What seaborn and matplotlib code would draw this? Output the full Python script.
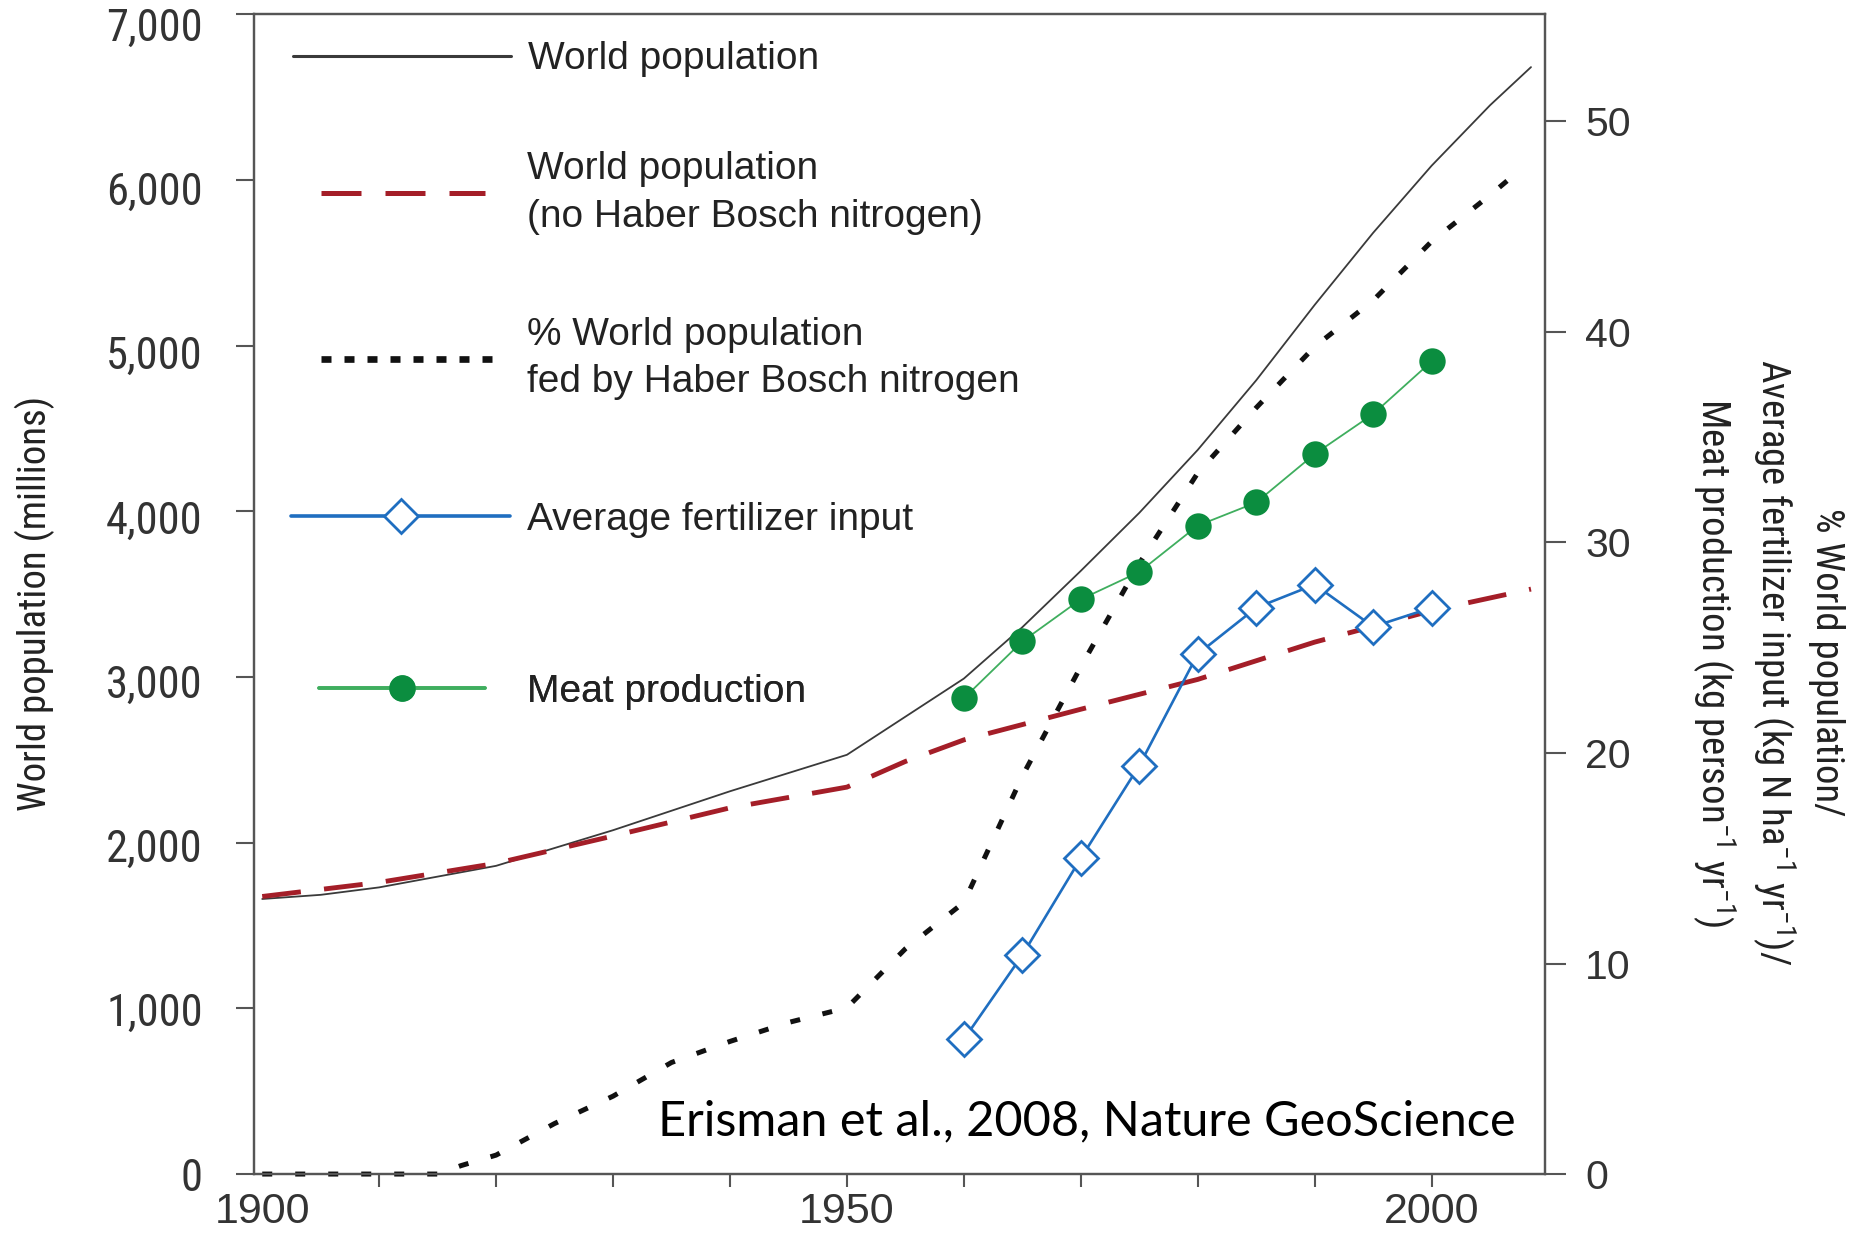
import matplotlib
matplotlib.use("Agg")
import matplotlib.pyplot as plt
import seaborn as sns
from matplotlib import font_manager
from matplotlib.lines import Line2D
from matplotlib.ticker import FixedFormatter, FixedLocator
from matplotlib.transforms import ScaledTranslation

# values
years_pop = [1900, 1905, 1910, 1920, 1930, 1940, 1950, 1955, 1960, 1965, 1970,
             1975, 1980, 1985, 1990, 1995, 2000, 2005, 2008.5]
world_pop = [1660, 1685, 1730, 1860, 2075, 2310, 2530, 2760, 2990, 3300, 3640,
             3990, 4370, 4790, 5245, 5680, 6085, 6450, 6680]

years_no_hb = [1900, 1910, 1920, 1930, 1940, 1950, 1955, 1960, 1970, 1980, 1990,
               2000, 2008.5]
world_pop_no_hb = [1675, 1760, 1875, 2040, 2210, 2335, 2490, 2620, 2805, 2985, 3210,
                   3400, 3530]

years_hb = [1900, 1915, 1917, 1920, 1925, 1930, 1935, 1940, 1945, 1950, 1955, 1960,
            1965, 1970, 1975, 1980, 1985, 1990, 1995, 2000, 2005, 2006.5]
pct_fed_hb = [0, 0, 0.4, 0.9, 2.4, 3.7, 5.3, 6.3, 7.2, 7.9, 10.7, 12.9,
              18.9, 24.1, 29.0, 33.3, 36.4, 39.3, 41.5, 44.3, 46.5, 47.2]

years_agri = [1960, 1965, 1970, 1975, 1980, 1985, 1990, 1995, 2000]
fertilizer = [6.4, 10.4, 15.0, 19.4, 24.7, 26.9, 28.0, 26.0, 26.9]
meat = [22.6, 25.3, 27.3, 28.6, 30.8, 31.9, 34.2, 36.1, 38.6]

x_major = [1900, 1950, 2000]
x_minor = list(range(1910, 2001, 10))
left_ticks = [0, 1000, 2000, 3000, 4000, 5000, 6000, 7000]
left_labels = ["0", "1,000", "2,000", "3,000", "4,000", "5,000", "6,000", "7,000"]
right_ticks = [0, 10, 20, 30, 40, 50]


def pick_font(names):
    have = {f.name for f in font_manager.fontManager.ttflist}
    for n in names:
        if n in have:
            return n
    return "DejaVu Sans"


sns.set_style("ticks")
narrow = pick_font(["Liberation Sans Narrow", "Roboto Condensed", "Liberation Sans"])
plain = pick_font(["Liberation Sans", "Arimo", "DejaVu Sans"])
cite_font = pick_font(["Lato", "Open Sans"])
plt.rcParams["font.family"] = [plain, "DejaVu Sans"]
plt.rcParams["mathtext.fontset"] = "custom"
plt.rcParams["mathtext.rm"] = narrow
plt.rcParams["mathtext.it"] = narrow

RED = "#a41e28"
BLUE = "#1f6ec0"
GREEN = "#0b8d3f"
GREEN_LINE = "#3fae5e"
GREY = "#3a3a3a"
AXIS = "#555555"
TEXT = "#222222"

fig = plt.figure(figsize=(18.53, 12.47), dpi=100)
ax = fig.add_axes([0.1371, 0.0585, 0.6967, 0.9302])
ax2 = ax.twinx()

red_dash = (0, (8.0, 4.8))
dots = (0, (2.0, 4.6))

sns.lineplot(x=years_pop, y=world_pop, ax=ax, color=GREY, linewidth=1.3)
sns.lineplot(x=years_no_hb, y=world_pop_no_hb, ax=ax, color=RED, linewidth=3.5,
             linestyle=red_dash)
sns.lineplot(x=years_hb, y=pct_fed_hb, ax=ax2, color="#111111", linewidth=3.6,
             linestyle=dots, clip_on=False)
sns.lineplot(x=years_agri, y=fertilizer, ax=ax2, color=BLUE, linewidth=1.9,
             marker="D", markersize=17, markerfacecolor="white",
             markeredgecolor=BLUE, markeredgewidth=2.0)
sns.lineplot(x=years_agri, y=meat, ax=ax2, color=GREEN_LINE, linewidth=1.3,
             marker="o", markersize=19, markerfacecolor=GREEN,
             markeredgecolor=GREEN, markeredgewidth=0)

ax.set_xlim(1899.3, 2009.7)
ax.set_ylim(0, 7000)
ax2.set_ylim(0, 55.1)

# x axis: ticks every decade, labels every 50 years
ax.xaxis.remove_overlapping_locs = False
ax.xaxis.set_major_locator(FixedLocator(x_major))
ax.xaxis.set_major_formatter(FixedFormatter([str(y) for y in x_major]))
ax.xaxis.set_minor_locator(FixedLocator(x_minor))
ax.tick_params(axis="x", which="major", length=0, pad=13, labelsize=31,
               labelcolor="#333333")
ax.tick_params(axis="x", which="minor", length=9, width=1.5, color=AXIS,
               direction="out")

ax.set_yticks(left_ticks, left_labels)
ax.tick_params(axis="y", length=13, width=1.5, color=AXIS, direction="out", pad=24,
               labelsize=32, labelcolor="#333333", labelfontfamily=narrow)
ax2.set_yticks(right_ticks, [str(t) for t in right_ticks])
ax2.tick_params(axis="y", length=15, width=1.5, color=AXIS, direction="out", pad=14,
                labelsize=29.5, labelcolor="#333333")

for a in (ax, ax2):
    for s in a.spines.values():
        s.set_visible(True)
        s.set_color(AXIS)
        s.set_linewidth(1.6)

ax.set_ylabel("World population (millions)", fontsize=28, fontfamily=narrow,
              color=TEXT)
ax.yaxis.set_label_coords(-0.1545, 0.492)

right_label = ("% World population/\n"
               "Average fertilizer input (kg N ha$^{-1}$ yr$^{-1}$)/\n"
               "Meat production (kg person$^{-1}$ yr$^{-1}$)")
ax2.set_ylabel(right_label, fontsize=28, fontfamily=narrow, color=TEXT,
               rotation=270, linespacing=1.32)
ax2.yaxis.label.set(ha="center", va="center", rotation_mode="default",
                    multialignment="center")
ax2.yaxis.set_label_coords(1.172, 0.441)

# legend: one key per entry so each sits where the reference puts it
keys = [
    (Line2D([], [], color=GREY, lw=2.2), "World population", 0.0302, 0.961, 5.6, 0.43),
    (Line2D([], [], color=RED, lw=3.6, linestyle=red_dash),
     "World population\n(no Haber Bosch nitrogen)", 0.0522, 0.846, 4.2, 1.09),
    (Line2D([], [], color="#111111", lw=4.8, linestyle=(0, (1.5, 1.95))),
     "% World population\nfed by Haber Bosch nitrogen", 0.0522, 0.703, 4.56, 0.73),
    (Line2D([], [], color=BLUE, lw=2.6, marker="D", markersize=17,
            markerfacecolor="white", markeredgecolor=BLUE, markeredgewidth=2.0),
     "Average fertilizer input", 0.0284, 0.564, 5.65, 0.43),
    (Line2D([], [], color=GREEN_LINE, lw=2.6, marker="o", markersize=19,
            markerfacecolor=GREEN, markeredgecolor=GREEN, markeredgewidth=0),
     "Meat production", 0.0504, 0.416, 4.26, 1.09),
]
for handle, text, x0, y0, hl, pad in keys:
    leg = ax2.legend([handle], [text], loc="center left", bbox_to_anchor=(x0, y0),
                     frameon=False, fontsize=28, handlelength=hl, handletextpad=pad,
                     borderpad=0, borderaxespad=0, numpoints=1)
    for t in leg.get_texts():
        t.set_color(TEXT)
        t.set_linespacing(1.42)
    ax2.add_artist(leg)

ax2.text(0.977, 0.045, "Erisman et al., 2008, Nature GeoScience",
         transform=ax2.transAxes, ha="right", va="center", fontsize=35,
         fontfamily=cite_font, color="black")

# the left tick labels sit a little below their ticks in the original,
# more so towards the top of the axis
fig.canvas.draw()
for tick, v in zip(ax.yaxis.get_major_ticks(), left_ticks):
    shift = ScaledTranslation(0, -(v / 7000) * 10 / 100, fig.dpi_scale_trans)
    tick.label1.set_transform(tick.label1.get_transform() + shift)

fig.savefig("out.png", dpi=100)
